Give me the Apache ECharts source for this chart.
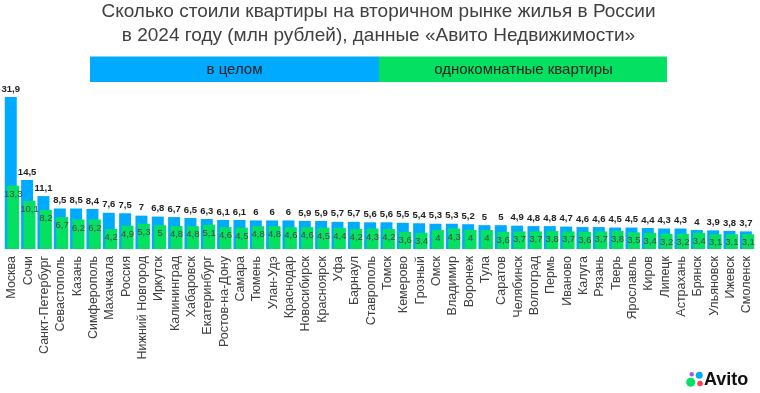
<!DOCTYPE html>
<html><head><meta charset="utf-8">
<script src="https://cdn.jsdelivr.net/npm/echarts@6/dist/echarts.min.js"></script>
<style>html,body{margin:0;padding:0;background:#fff}#c{width:760px;height:393px}</style>
</head><body><div id="c"></div>
<script>
const cities = ["Москва","Сочи","Санкт-Петербург","Севастополь","Казань","Симферополь","Махачкала","Россия","Нижний Новгород","Иркутск","Калининград","Хабаровск","Екатеринбург","Ростов-на-Дону","Самара","Тюмень","Улан-Удэ","Краснодар","Новосибирск","Красноярск","Уфа","Барнаул","Ставрополь","Томск","Кемерово","Грозный","Омск","Владимир","Воронеж","Тула","Саратов","Челябинск","Волгоград","Пермь","Иваново","Калуга","Рязань","Тверь","Ярославль","Киров","Липецк","Астрахань","Брянск","Ульяновск","Ижевск","Смоленск"];
const overall = [31.9,14.5,11.1,8.5,8.5,8.4,7.6,7.5,7,6.8,6.7,6.5,6.3,6.1,6.1,6,6,6,5.9,5.9,5.7,5.7,5.6,5.6,5.5,5.4,5.3,5.3,5.2,5,5,4.9,4.8,4.8,4.7,4.6,4.6,4.5,4.5,4.4,4.3,4.3,4,3.9,3.8,3.7];
const oneRoom = [13.3,10.1,8.2,6.7,6.2,6.2,4.2,4.9,5.3,5,4.8,4.8,5.1,4.6,4.5,4.8,4.8,4.6,4.6,4.5,4.4,4.2,4.3,4.2,3.6,3.4,4,4.3,4,4,3.6,3.7,3.7,3.8,3.7,3.6,3.7,3.8,3.5,3.4,3.2,3.2,3.4,3.1,3.1,3.1];
const seriesNames = ["в целом","однокомнатные квартиры"];
const titleLines = ["Сколько стоили квартиры на вторичном рынке жилья в России","в 2024 году (млн рублей), данные «Авито Недвижимости»"];

const BLUE = "#00AAFF", GREEN = "#04E061";
const FONT = "Liberation Sans, Arial, sans-serif";
const fmt = p => String(p.value).replace('.', ',');

const chart = echarts.init(document.getElementById('c'), null, {renderer:'canvas'});
chart.setOption({
  animation:false,
  textStyle:{fontFamily:FONT},
  grid:{left:3.8, right:4.8, top:96.5, bottom:144},
  xAxis:{type:'category', data:cities,
    axisLine:{show:false}, axisTick:{show:false},
    axisLabel:{rotate:90, interval:0, fontSize:12.5, color:'#404040', margin:7, fontFamily:FONT}},
  yAxis:{type:'value', min:0, max:32, show:false, splitLine:{show:false}},
  series:[
    {name:seriesNames[0], type:'bar', data:overall, barWidth:12, barGap:'-80%',
     itemStyle:{color:BLUE},
     label:{show:true, position:'top', distance:3, formatter:fmt, fontSize:9.5, fontWeight:'bold', color:'#222', fontFamily:FONT}},
    {name:seriesNames[1], type:'bar', data:oneRoom, barWidth:12,
     itemStyle:{color:GREEN},
     label:{show:true, position:'insideTop', distance:3.5, formatter:fmt, fontSize:9.5, color:'#444', fontFamily:FONT}}
  ],
  graphic:[
    {type:'text', style:{text:titleLines[0], x:378.5, y:12, align:'center', verticalAlign:'middle', fontSize:19, fill:'#404040', fontFamily:FONT}},
    {type:'text', style:{text:titleLines[1], x:378.5, y:36, align:'center', verticalAlign:'middle', fontSize:19, fill:'#404040', fontFamily:FONT}},
    {type:'rect', shape:{x:90, y:56.5, width:289, height:25.5}, style:{fill:BLUE}},
    {type:'rect', shape:{x:379, y:56.5, width:288, height:25.5}, style:{fill:GREEN}},
    {type:'text', style:{text:seriesNames[0], x:234.5, y:70, align:'center', verticalAlign:'middle', fontSize:15, fill:'#222', fontFamily:FONT}},
    {type:'text', style:{text:seriesNames[1], x:523.5, y:70, align:'center', verticalAlign:'middle', fontSize:15, fill:'#222', fontFamily:FONT}},
    {type:'circle', shape:{cx:691.7, cy:374.3, r:2.2}, style:{fill:'#965EEB'}},
    {type:'circle', shape:{cx:699.3, cy:375.3, r:3.5}, style:{fill:'#0AF'}},
    {type:'circle', shape:{cx:690.7, cy:382.3, r:4.5}, style:{fill:'#04E061'}},
    {type:'circle', shape:{cx:700, cy:383.5, r:2.8}, style:{fill:'#FF4053'}},
    {type:'text', style:{text:'Avito', x:704, y:380, align:'left', verticalAlign:'middle', fontSize:18, fontWeight:'bold', fill:'#111', fontFamily:FONT}}
  ]
});
</script></body></html>
